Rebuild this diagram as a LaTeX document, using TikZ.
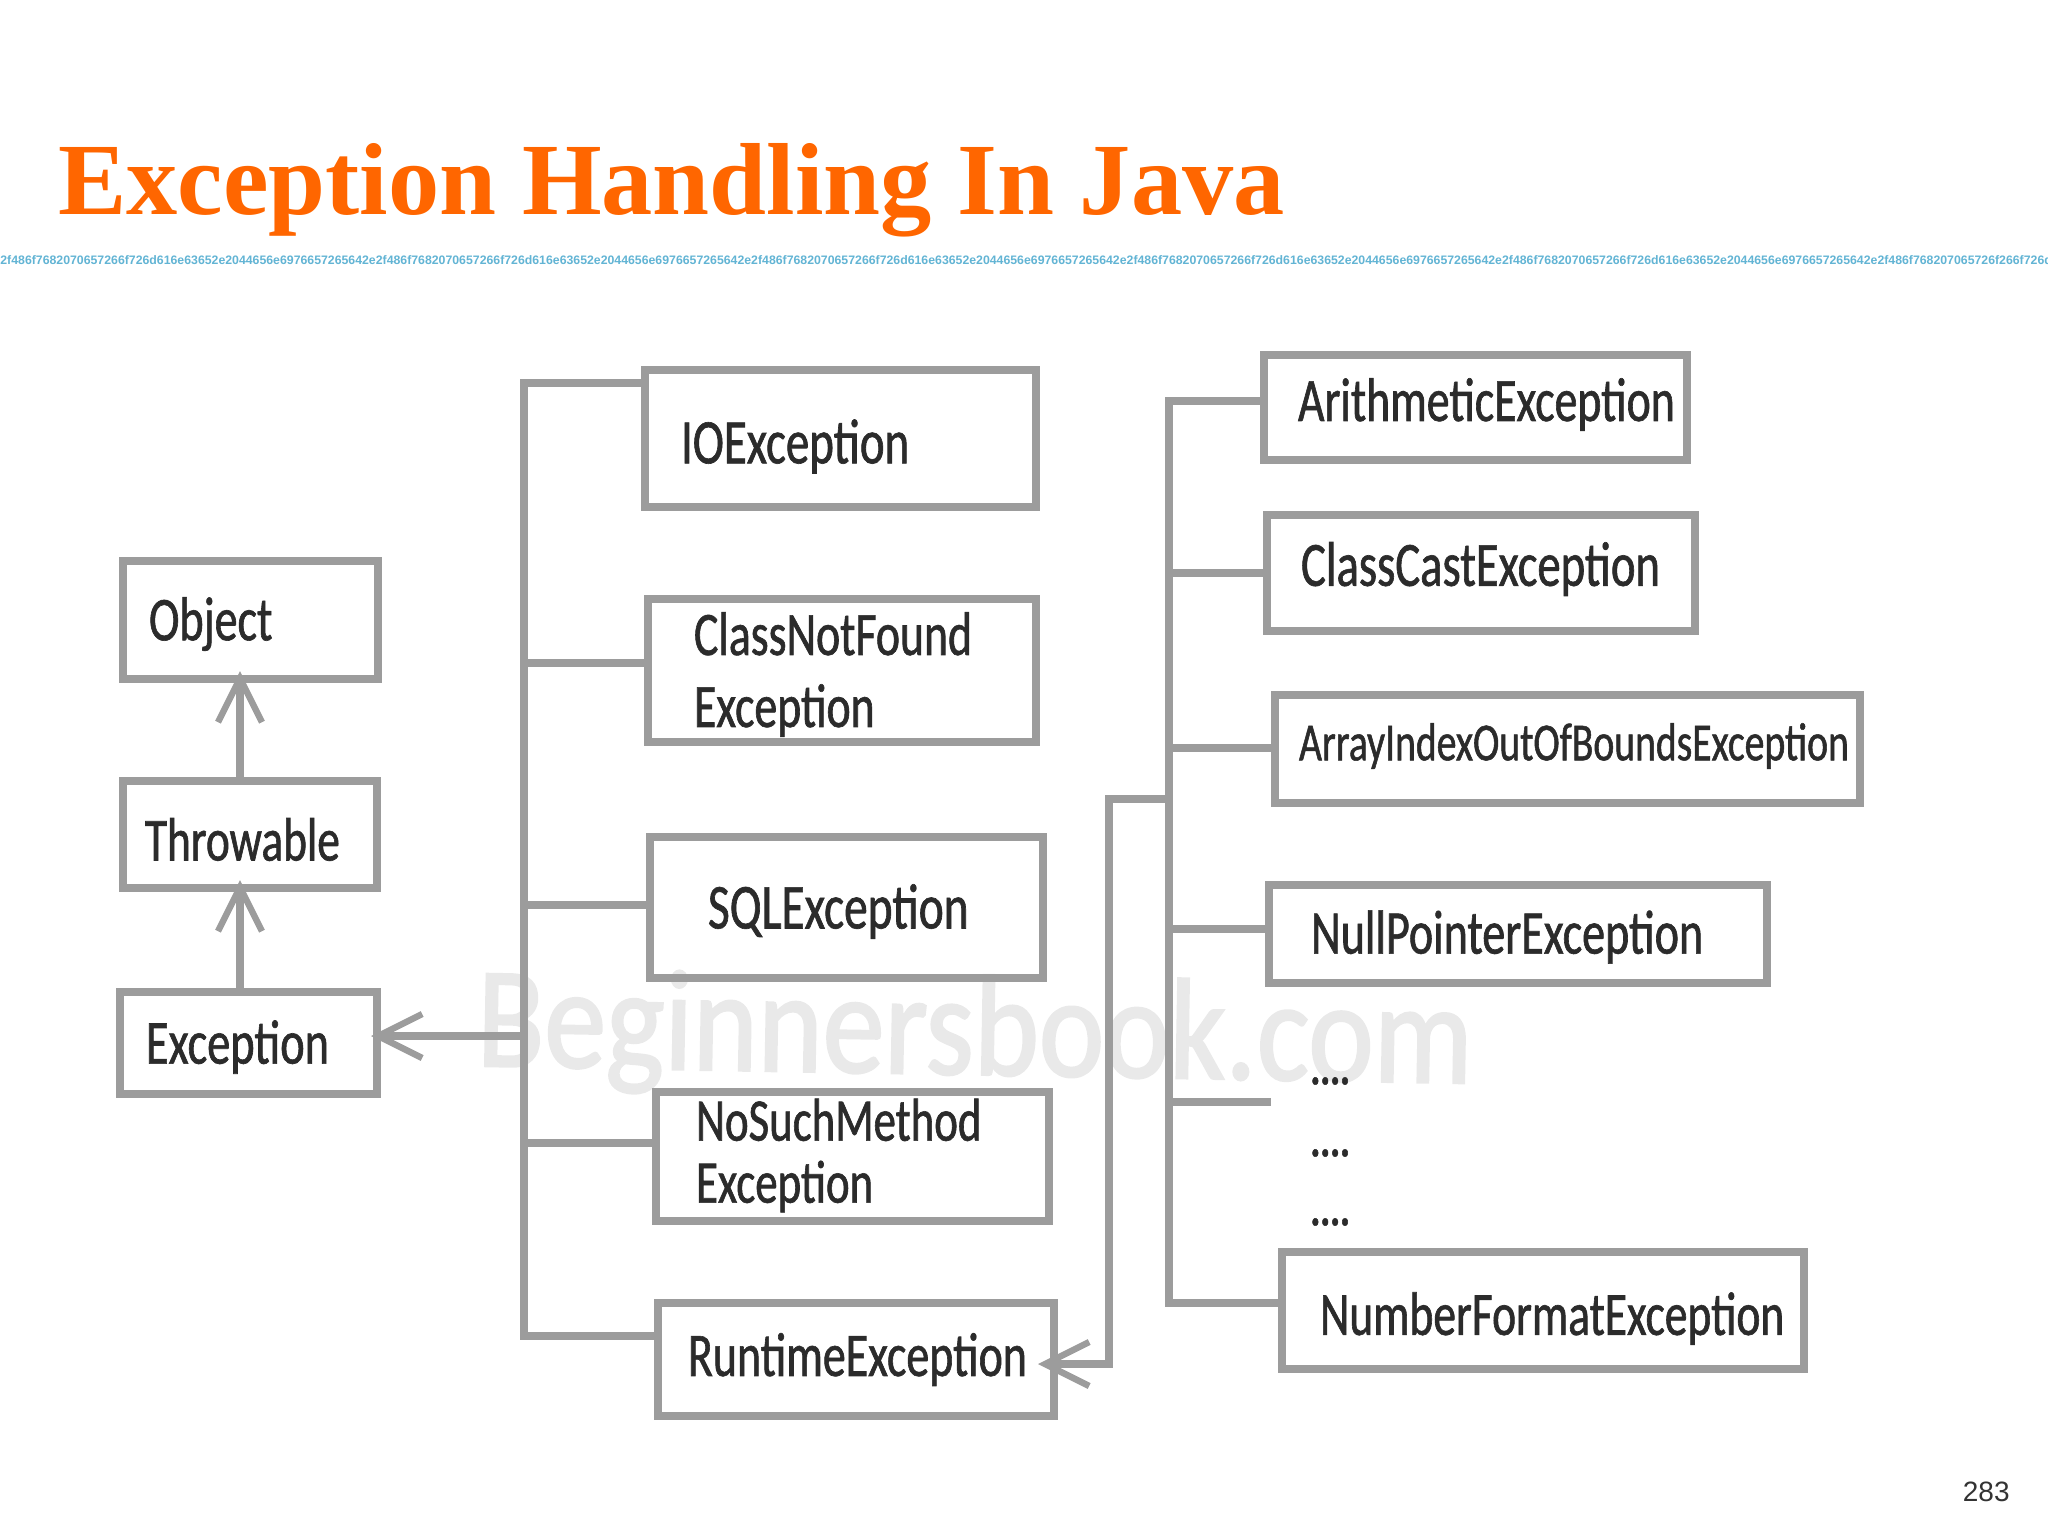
\documentclass[tikz,border=0pt]{standalone}
\usepackage{fontspec}
\usetikzlibrary{arrows.meta}
\setmainfont{Liberation Serif}
\newfontfamily\excfont[FakeStretch=0.74,FakeBold=1,HyphenChar=None]{Carlito}
\newfontfamily\markfont[FakeStretch=0.86,FakeBold=1.5]{Carlito}
\newfontfamily\pagefont{Liberation Sans}
\newcommand{\stripunit}{2f486f7682070657266f726d616e63652e2044656e6976657265642e}
\definecolor{boxgray}{HTML}{9C9C9C}
\definecolor{titleorange}{HTML}{FF6600}
\definecolor{stripblue}{HTML}{62B4D4}
\definecolor{markgray}{HTML}{E9E9E9}
\definecolor{textdark}{HTML}{2B2B2B}
\tikzset{
  excbox/.style n args={5}{draw=boxgray,line width=3.8pt,anchor=north west,outer sep=0pt,
    minimum width=#1*0.5pt,minimum height=#2*0.5pt,inner xsep=#3*0.5pt,inner ysep=0pt,
    text width=#1*0.5pt-#3*1pt,align=left,text=textdark,
    font=\excfont\fontsize{#4}{36}\selectfont,execute at begin node={\vskip #5pt\prevdepth=-1000pt}},
  conn/.style={draw=boxgray,line width=3.6pt},
  openhead/.style={conn,-{Straight Barb[length=22pt,width=22pt,line width=3.2pt]},shorten >=-3pt},
  dots/.style={text=textdark,font=\excfont\fontsize{25}{36}\selectfont\bfseries,inner sep=0pt}
}
\begin{document}
\begin{tikzpicture}[x=0.5pt,y=-0.5pt]
\useasboundingbox (0,0) rectangle (2048,1536);

% Title and strip
\node[anchor=base west,inner sep=0pt,text=titleorange,font=\fontsize{51.2}{60}\selectfont\bfseries] (title) at (58,214) {Exception Handling In Java};
\node[anchor=west,inner sep=0pt,text=stripblue,font=\pagefont\fontsize{6.15}{7}\selectfont\bfseries] (strip) at (0,260) {\stripunit\stripunit\stripunit\stripunit\stripunit 2f486f768207065726f266f726d61};

% Watermark
\node[anchor=base west,inner sep=0pt,text=markgray,rotate=-1,font=\markfont\fontsize{72}{80}\selectfont] (mark) at (476,1066) {Beginnersbook.com};

% Left column
\node[excbox={255}{118}{26}{31.1}{4}] (object) at (123,561) {Object};
\node[excbox={254}{107}{22}{30.6}{5}] (throwable) at (123,781) {Throwable};
\node[excbox={257}{102}{26}{31.3}{4}] (exception) at (120,992) {Exception};

% Middle column
\node[excbox={391}{137}{36}{31.7}{8}] (io) at (645,370) {IOException};
\node[excbox={388}{143}{46}{30.9}{4}] (cnf) at (648,599) {ClassNotFound\\Exception};
\node[excbox={393}{141}{58}{32}{4}] (sql) at (650,837) {SQLException};
\node[excbox={393}{129}{40}{30.3}{-1}] (nosuch) at (656,1092) {NoSuchMethod\\[-5pt]Exception};
\node[excbox={396}{113}{30}{31}{0}] (runtime) at (658,1303) {RuntimeException};

% Right column
\node[excbox={423}{105}{34}{30.9}{-3}] (arith) at (1264,355) {ArithmeticException};
\node[excbox={428}{116}{34}{31.5}{-4}] (cast) at (1267,515) {ClassCastException};
\node[excbox={585}{108}{24}{26.8}{-3}] (array) at (1275,695) {ArrayIndexOutOfBoundsException};
\node[excbox={498}{98}{42}{31.1}{3}] (nullp) at (1269,885) {NullPointerException};
\node[excbox={522}{117}{38}{30.7}{8}] (numfmt) at (1282,1252) {NumberFormatException};
\node[dots,anchor=west] (dotsa) at (1310,1081) {....};
\node[dots,anchor=west] (dotsb) at (1310,1153) {....};
\node[dots,anchor=west] (dotsc) at (1310,1222) {....};

% Arrows up the left column
\coordinate (upline) at (240,0);
\draw[openhead,shorten >=-4pt] (throwable.north -| upline) -- (object.south -| upline);
\draw[openhead,shorten >=-4pt] (exception.north -| upline) -- (throwable.south -| upline);

% Left trunk
\coordinate (ltop) at (524,383);
\coordinate (lcnf) at (524,663);
\coordinate (lsql) at (524,905);
\coordinate (lexc) at (524,1036);
\coordinate (lnos) at (524,1143);
\coordinate (lbot) at (524,1336);
\draw[conn] (io.west |- ltop) -- (ltop) -- (lbot) -- (runtime.west |- lbot);
\draw[conn] (lcnf) -- (cnf.west |- lcnf);
\draw[conn] (lsql) -- (sql.west |- lsql);
\draw[conn] (lnos) -- (nosuch.west |- lnos);
\draw[openhead] (lexc) -- (exception.east |- lexc);

% Right trunk
\coordinate (rtop) at (1169,401);
\coordinate (rcast) at (1169,573);
\coordinate (rarr) at (1169,748);
\coordinate (rjoin) at (1169,799);
\coordinate (rnull) at (1169,929);
\coordinate (rdots) at (1169,1102);
\coordinate (rdotsend) at (1271,1102);
\coordinate (rbot) at (1169,1303);
\coordinate (rturn) at (1109,799);
\coordinate (rdown) at (1109,1364);
\draw[conn] (arith.west |- rtop) -- (rtop) -- (rbot) -- (numfmt.west |- rbot);
\draw[conn] (rcast) -- (cast.west |- rcast);
\draw[conn] (rarr) -- (array.west |- rarr);
\draw[conn] (rnull) -- (nullp.west |- rnull);
\draw[conn] (rdots) -- (rdotsend);
\draw[openhead,shorten >=-8pt] (rjoin) -- (rturn) -- (rdown) -- (runtime.east |- rdown);

% Page number
\node[anchor=base east,inner sep=0pt,font=\pagefont\fontsize{14}{16}\selectfont,text=black!80] (pageno) at (2010,1501) {283};
\end{tikzpicture}
\end{document}
